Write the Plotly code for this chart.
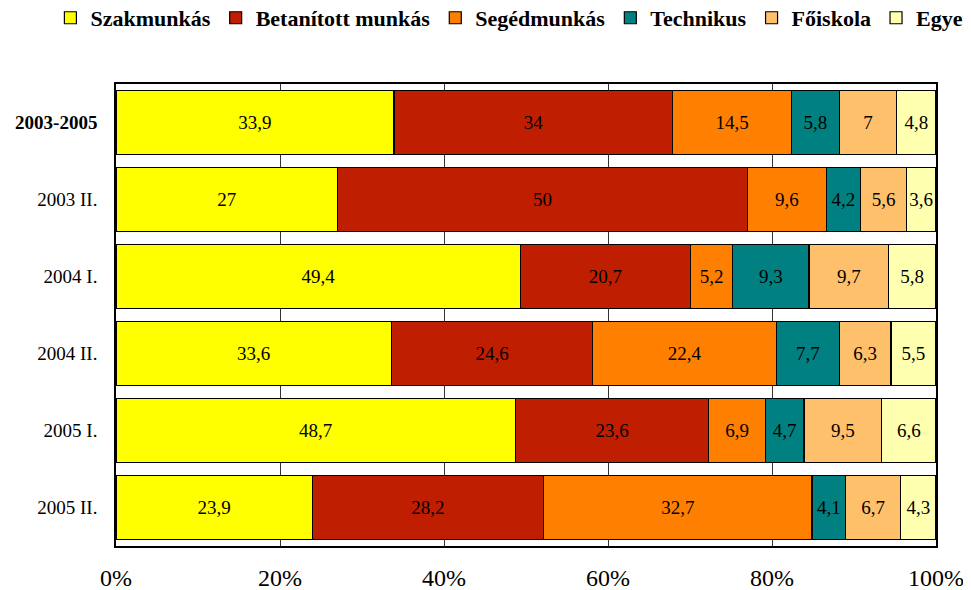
import plotly.graph_objects as go

categories = ["<b>2003-2005</b>", "2003 II.", "2004 I.", "2004 II.", "2005 I.", "2005 II."]
series_names = ["Szakmunkás", "Betanított munkás", "Segédmunkás", "Technikus", "Főiskola", "Egyet"]
szakmunkas = [33.9, 27, 49.4, 33.6, 48.7, 23.9]
betanitott = [34, 50, 20.7, 24.6, 23.6, 28.2]
segedmunkas = [14.5, 9.6, 5.2, 22.4, 6.9, 32.7]
technikus = [5.8, 4.2, 9.3, 7.7, 4.7, 4.1]
foiskola = [7, 5.6, 9.7, 6.3, 9.5, 6.7]
egyetem = [4.8, 3.6, 5.8, 5.5, 6.6, 4.3]
x_ticks = [0, 20, 40, 60, 80, 100]
x_tick_labels = ["0%", "20%", "40%", "60%", "80%", "100%"]

series = [szakmunkas, betanitott, segedmunkas, technikus, foiskola, egyetem]
colors = ["#FFFF00", "#C01E00", "#FF8000", "#008080", "#FFC06C", "#FFFFB0"]

fig = go.Figure()
for name, vals, col in zip(series_names, series, colors):
    labels = [("%g" % v).replace(".", ",") for v in vals]
    fig.add_trace(go.Bar(
        y=categories, x=vals, name="<b>" + name + "</b>", orientation="h",
        marker=dict(color=col, line=dict(color="#000000", width=1.2)),
        text=labels, textposition="inside", insidetextanchor="middle",
        textfont=dict(family="Liberation Serif", size=19, color="#000000"),
        constraintext="none", textangle=0,
    ))

fig.update_layout(
    barmode="stack", barnorm="percent", bargap=0.16,
    width=963, height=582,
    margin=dict(l=108, r=35, t=76, b=44, autoexpand=False),
    paper_bgcolor="white", plot_bgcolor="white",
    font=dict(family="Liberation Serif", color="#000000"),
    legend=dict(orientation="h", x=-0.08, xanchor="left", xref="paper",
                y=1.143, yanchor="middle", yref="paper",
                font=dict(family="Liberation Serif", size=22, color="#000000"),
                itemwidth=30, tracegroupgap=0, traceorder="normal"),
    showlegend=True,
)
fig.update_xaxes(range=[0, 100], tickvals=x_ticks, ticktext=x_tick_labels,
                 tickfont=dict(size=24, family="Liberation Serif"),
                 showgrid=True, gridcolor="#333333", gridwidth=1,
                 showline=True, linecolor="#000000", linewidth=1.5, mirror=True,
                 ticks="", ticklabelstandoff=9, zeroline=False, automargin=False)
fig.update_yaxes(autorange="reversed", tickfont=dict(size=19, family="Liberation Serif"),
                 showline=True, linecolor="#000000", linewidth=1.5, mirror=True,
                 ticks="", ticklabelstandoff=13, automargin=False)
fig.write_html("out.html")
